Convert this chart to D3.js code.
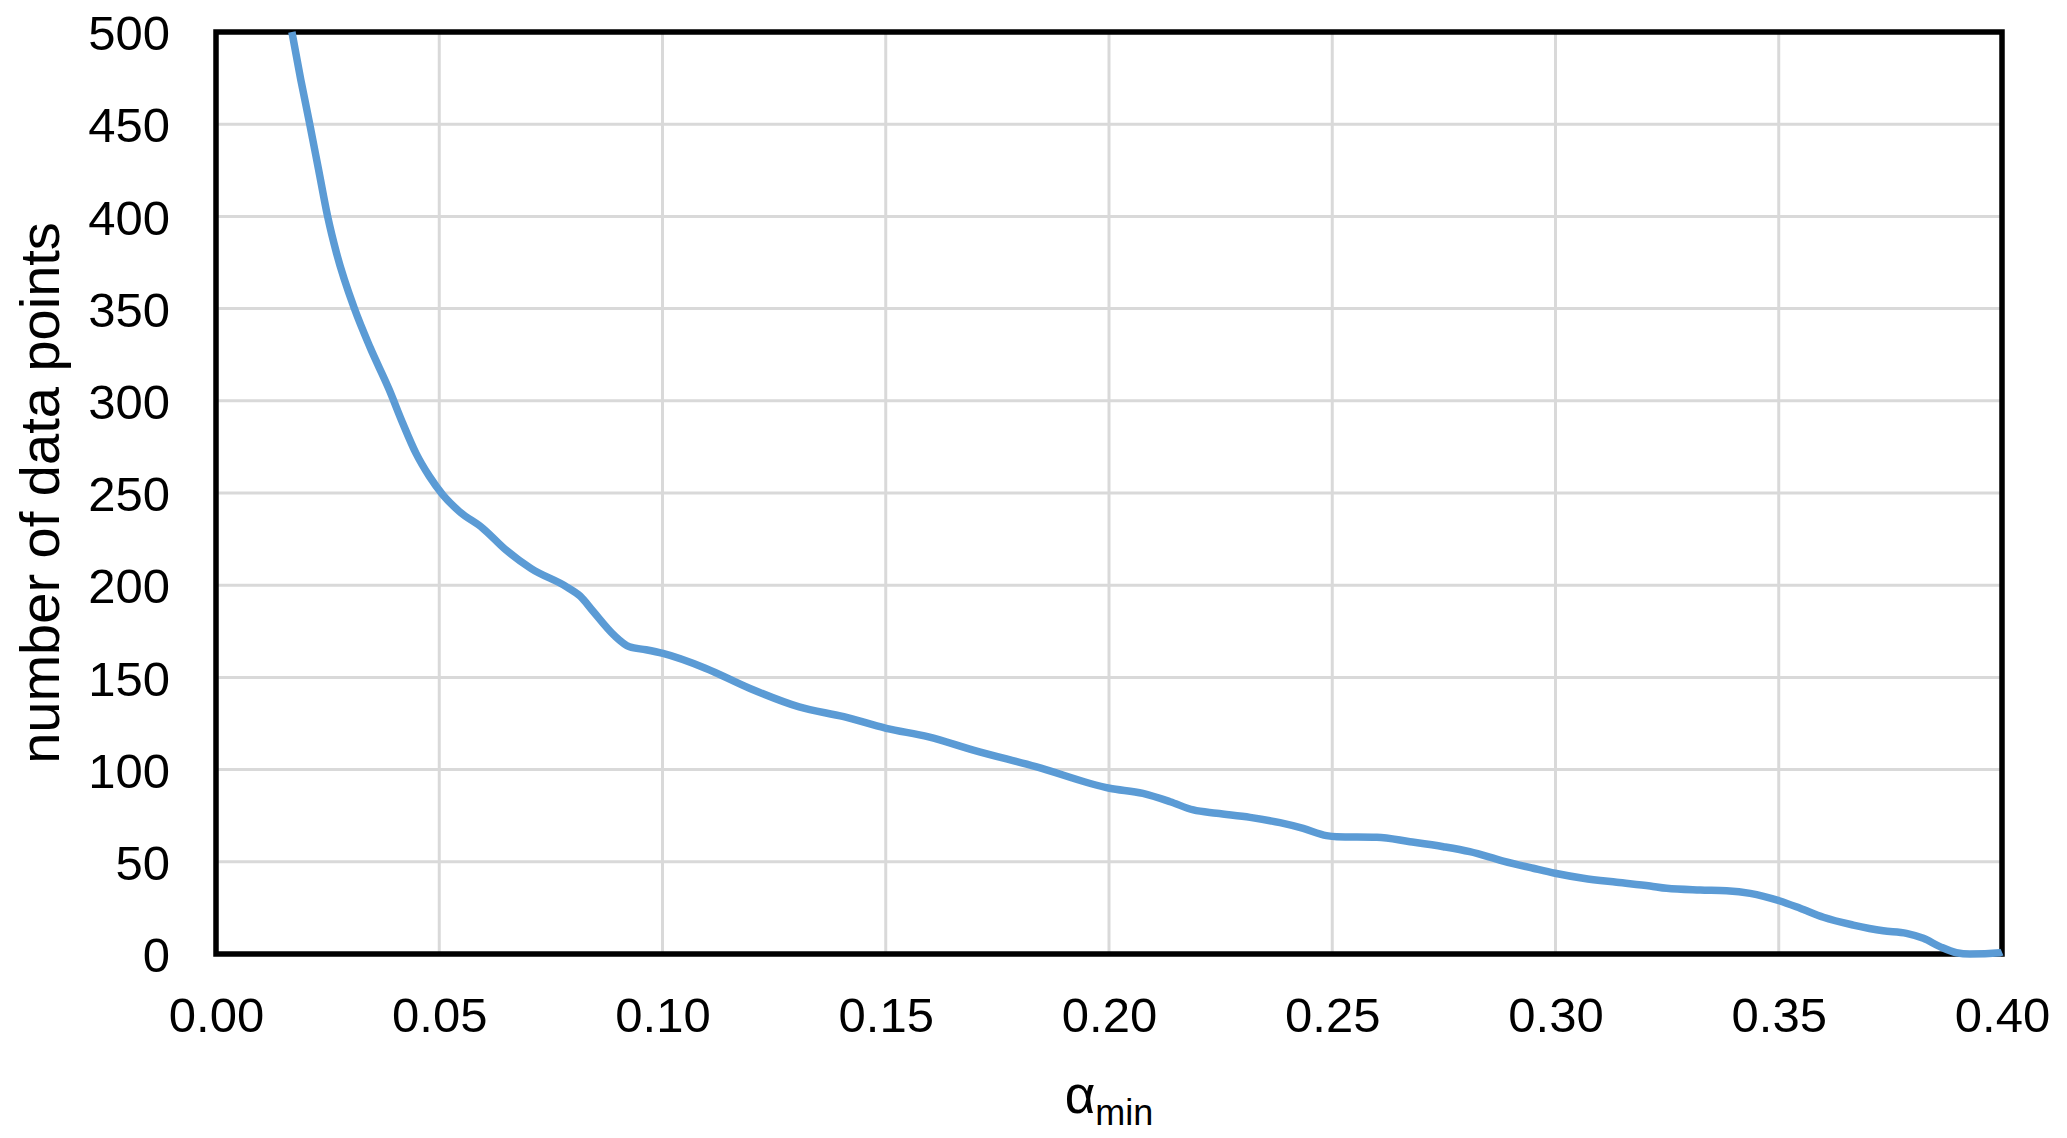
<!DOCTYPE html>
<html>
<head>
<meta charset="utf-8">
<script src="https://cdn.jsdelivr.net/npm/d3@7"></script>
<style>
    body { margin: 0; background: #fff; }
    text { font-family: "Liberation Sans", Arial, sans-serif; fill: #000; }
</style>
</head>
<body>
<div id="graph"></div>
<script>
// alpha_min values
const alphaMin = [0.017, 0.019, 0.021, 0.023, 0.025, 0.027, 0.031, 0.0345, 0.0388, 0.0418,
    0.0448, 0.0478, 0.0508, 0.0545, 0.0597, 0.065, 0.0706, 0.0786, 0.0816, 0.0844, 0.0891,
    0.0926, 0.0963, 0.1001, 0.1096, 0.1196, 0.1306, 0.1406, 0.1501, 0.1596, 0.1696,
    0.1836, 0.2001, 0.2076, 0.2137, 0.2189, 0.2241, 0.2316, 0.2383, 0.2435, 0.2487,
    0.251, 0.26, 0.2674, 0.2749, 0.2808, 0.2883, 0.295, 0.2999, 0.3062, 0.3137,
    0.3212, 0.3249, 0.3324, 0.3383, 0.3436, 0.3501, 0.3548, 0.36, 0.3667, 0.3734,
    0.3786, 0.3824, 0.3861, 0.3898, 0.3928, 0.3996, 0.4];
const dataPoints = [500, 474, 450, 425, 400, 380, 350, 329, 306, 288,
    271.5, 259, 249, 240, 231, 219, 209, 199, 194, 186, 173,
    166.6, 165, 163, 155, 144, 134, 128.7, 122.4, 117.8, 110.6,
    101.6, 89.9, 87.1, 82.6, 78.1, 76.3, 74.1, 71.2, 68.1, 64.2,
    63.6, 63.3, 60.9, 58.2, 55.5, 50.4, 46.5, 43.8, 41.1, 38.9,
    36.9, 35.6, 34.7, 34.3, 32.9, 28.9, 24.8, 19.9, 15.7, 12.6,
    11.2, 8.5, 4.0, 0.7, 0, 0.7, 1];

const xTicks = [0, 0.05, 0.1, 0.15, 0.2, 0.25, 0.3, 0.35, 0.4];
const yTicks = [0, 50, 100, 150, 200, 250, 300, 350, 400, 450, 500];

const width = 2067;
const height = 1138;
const margin = {top: 32, right: 65, bottom: 184, left: 216};

const svg = d3.select("#graph")
    .append("svg")
        .attr("width", width)
        .attr("height", height);

const x = d3.scaleLinear()
    .domain([0, 0.4])
    .range([margin.left, width - margin.right]);

const y = d3.scaleLinear()
    .domain([0, 500])
    .range([height - margin.bottom, margin.top]);

// gridlines
svg.append("g")
    .attr("stroke", "#d9d9d9")
    .attr("stroke-width", 3)
    .selectAll("line.v")
    .data(xTicks.slice(1, -1))
    .join("line")
        .attr("x1", d => x(d))
        .attr("x2", d => x(d))
        .attr("y1", y(500))
        .attr("y2", y(0));

svg.append("g")
    .attr("stroke", "#d9d9d9")
    .attr("stroke-width", 3)
    .selectAll("line.h")
    .data(yTicks.slice(1, -1))
    .join("line")
        .attr("x1", x(0))
        .attr("x2", x(0.4))
        .attr("y1", d => y(d))
        .attr("y2", d => y(d));

// axes (labels only, frame drawn below)
const xAxis = svg.append("g")
    .attr("transform", `translate(0, ${y(0)})`)
    .call(d3.axisBottom(x).tickValues(xTicks).tickFormat(d3.format(".2f")).tickSize(0).tickPadding(0));
xAxis.select(".domain").remove();
xAxis.selectAll("text")
    .attr("font-size", 49)
    .attr("dy", null)
    .attr("y", 78);

const yAxis = svg.append("g")
    .attr("transform", `translate(${x(0)}, 0)`)
    .call(d3.axisLeft(y).tickValues(yTicks).tickSize(0).tickPadding(0));
yAxis.select(".domain").remove();
yAxis.selectAll("text")
    .attr("font-size", 49)
    .attr("x", -46)
    .attr("dy", "0.36em");

svg.selectAll(".tick text").attr("fill", "#000").attr("font-family", "Liberation Sans, Arial, sans-serif");

// frame
svg.append("rect")
    .attr("x", x(0))
    .attr("y", y(500))
    .attr("width", x(0.4) - x(0))
    .attr("height", y(0) - y(500))
    .attr("fill", "none")
    .attr("stroke", "#000")
    .attr("stroke-width", 5.5);

// curve
const line = d3.line()
    .x((d, i) => x(alphaMin[i]))
    .y(d => y(d))
    .curve(d3.curveMonotoneX);

svg.append("path")
    .datum(dataPoints)
    .attr("fill", "none")
    .attr("stroke", "#5b9bd5")
    .attr("stroke-width", 7.5)
    .attr("stroke-linejoin", "round")
    .attr("d", line);

// axis titles
const xTitle = svg.append("text")
    .attr("x", (x(0) + x(0.4)) / 2)
    .attr("y", 1113)
    .attr("text-anchor", "middle");
xTitle.append("tspan").attr("font-size", 53).text("α");
xTitle.append("tspan").attr("font-size", 36).attr("dy", 12).text("min");

svg.append("text")
    .attr("transform", `translate(59, ${(y(0) + y(500)) / 2}) rotate(-90)`)
    .attr("text-anchor", "middle")
    .attr("font-size", 56)
    .text("number of data points");
</script>
</body>
</html>
